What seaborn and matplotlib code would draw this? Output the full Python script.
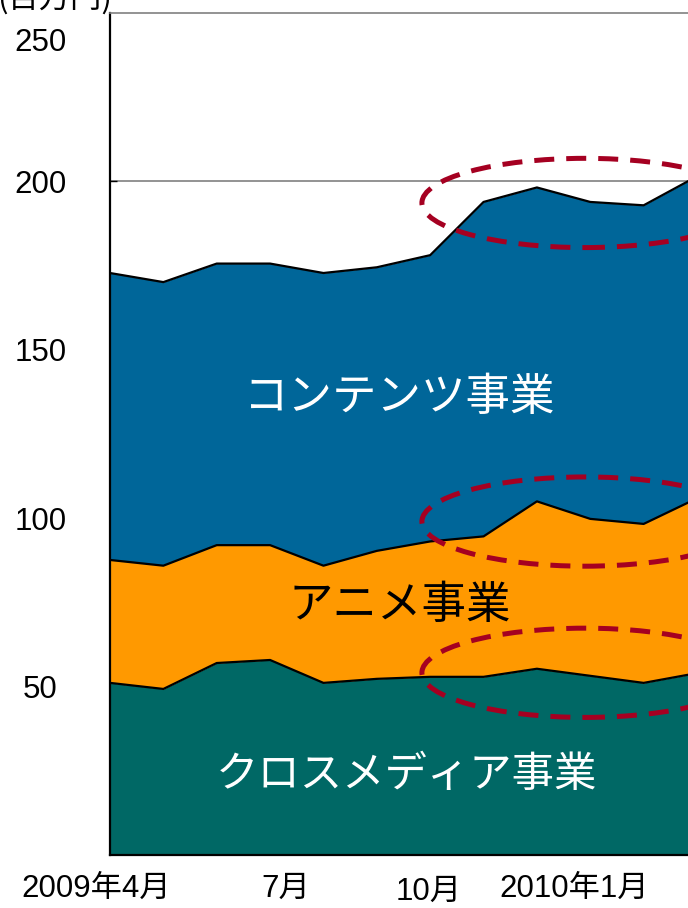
import matplotlib
matplotlib.use("Agg")
import matplotlib.pyplot as plt
import matplotlib.transforms as mtransforms
from matplotlib.patches import Ellipse
import numpy as np
import pandas as pd
import seaborn as sns

# ---- data (百万円) ----
months = ["2009年4月", "5月", "6月", "7月", "8月", "9月", "10月", "11月", "12月",
          "2010年1月", "2月", "3月"]
cross_media = [51.1, 49.3, 57.0, 57.9, 51.1, 52.3, 52.9, 52.9, 55.3, 53.2, 51.1, 54.0]
anime = [36.5, 36.6, 35.0, 34.1, 34.8, 38.0, 40.2, 41.7, 49.7, 46.6, 47.2, 51.9]
contents = [85.2, 84.2, 83.6, 83.6, 86.9, 84.2, 85.0, 99.3, 93.2, 94.1, 94.6, 95.6]
series_names = ["クロスメディア事業", "アニメ事業", "コンテンツ事業"]
series_colors = ["#006865", "#FF9900", "#006699"]
label_colors = ["white", "black", "white"]
tick_months = [0, 3, 6, 9]
tick_labels = ["2009年4月", "7月", "10月", "2010年1月"]
y_ticks = [50, 100, 150, 200]
y_unit = "(百万円)"

sns.set_theme(style="white")
plt.rcParams["font.family"] = ["Liberation Sans", "Noto Sans CJK JP", "DejaVu Sans"]
plt.rcParams["text.color"] = "black"
plt.rcParams["xtick.color"] = "black"
plt.rcParams["ytick.color"] = "black"
plt.rcParams["xtick.labelcolor"] = "black"
plt.rcParams["ytick.labelcolor"] = "black"

df = pd.DataFrame({"month": months, "x": np.arange(len(months)),
                   series_names[0]: cross_media, series_names[1]: anime,
                   series_names[2]: contents})

W, H = 688, 908
fig = plt.figure(figsize=(W / 100, H / 100), dpi=100)
ax = fig.add_axes([110 / W, 53 / H, (697 - 110) / W, (855 - 13) / H])

bottom = np.zeros(len(df))
for name, col in zip(series_names, series_colors):
    top = bottom + df[name].to_numpy()
    ax.fill_between(df["x"], bottom, top, color=col, lw=0, zorder=2)
    sns.lineplot(x=df["x"], y=top, color="black", lw=1.6, ax=ax, zorder=3)
    bottom = top

ax.set_xlim(0, len(months) - 1)
ax.set_ylim(0, 250)
ax.set_xlabel("")
ax.set_ylabel("")

ax.set_axisbelow(True)
ax.yaxis.grid(True, color="#808080", lw=1.2)
ax.set_yticks(y_ticks)
ax.set_yticklabels([str(v) for v in y_ticks], ha="center")
ax.tick_params(axis="y", direction="in", length=5, width=1, color="black",
               left=True, pad=50, labelsize=22.5, labelcolor="black")
ax.set_xticks(tick_months)
ax.set_xticklabels(tick_labels)
ax.tick_params(axis="x", direction="in", length=5, width=1, color="black",
               bottom=True, pad=13.5, labelsize=22.5, labelcolor="black")

# fine label offsets as in the reference
x_off = [-14, 16, -2, -16]
y_off = [0, 0, -3, 0]
for lab, dx, dy in zip(ax.get_xticklabels(), x_off, y_off):
    lab.set_transform(lab.get_transform() +
                      mtransforms.ScaledTranslation(dx / 100, dy / 100, fig.dpi_scale_trans))

# "250" label (drawn a bit below the top of the axis in the reference)
ax.text(0, 250, "250", ha="center", va="center", fontsize=22.5, color="black",
        transform=mtransforms.blended_transform_factory(ax.transAxes, ax.transData)
        + mtransforms.ScaledTranslation(-69 / 100, -30 / 100, fig.dpi_scale_trans))

for s in ["left", "bottom"]:
    ax.spines[s].set_color("black")
    ax.spines[s].set_linewidth(1.6)
ax.spines["top"].set_color("#808080")
ax.spines["top"].set_linewidth(1.2)
ax.spines["right"].set_visible(False)

# area labels
label_pos = [(5.55, 23.8), (5.43, 74.3), (5.43, 136)]
label_sizes = [30.5, 32, 32]
for name, (lx, ly), lc, fs in zip(series_names, label_pos, label_colors, label_sizes):
    ax.text(lx, ly, name, ha="center", va="center", color=lc, fontsize=fs,
            family=["Noto Sans CJK JP"], zorder=5)

# dashed highlight ellipses
for cy in [193.6, 99.0, 54.1]:
    ax.add_patch(Ellipse((8.9, cy), 6.11, 26.5, fill=False, ec="#A50021",
                         lw=3.6, ls=(0, (4, 2.4)), zorder=6, clip_on=False))

fig.text(112 / W, 1 - 8 / H, y_unit, ha="right", va="baseline", fontsize=22.5,
         color="black", family=["Noto Sans CJK JP"])

fig.savefig("out.png", dpi=100)
